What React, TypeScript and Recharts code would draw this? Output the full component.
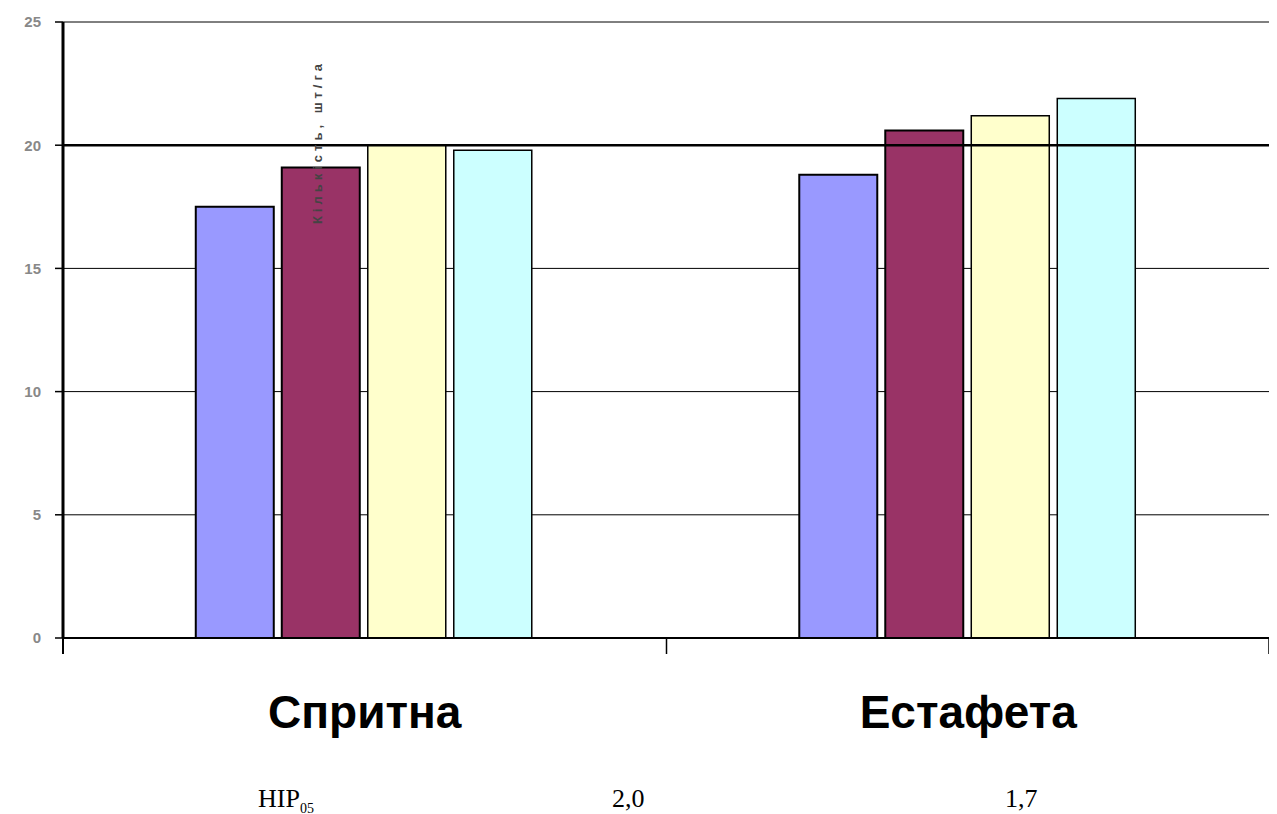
import React from "react";
import { BarChart, Bar, XAxis, YAxis, CartesianGrid, ReferenceLine } from "recharts";

const categories = ["Спритна", "Естафета"];
const series1 = [17.5, 18.8];
const series2 = [19.1, 20.6];
const series3 = [20.0, 21.2];
const series4 = [19.8, 21.9];
const yTicks = [0, 5, 10, 15, 20, 25];
const hirLabel = "НІР";
const hirSub = "05";
const hirValues = ["2,0", "1,7"];
const rotatedLabel = "Кількість, шт/га";

const colors = ["#9999FF", "#993366", "#FFFFCC", "#CCFFFF"];

const data = categories.map((c, i) => ({
  name: c,
  s1: series1[i],
  s2: series2[i],
  s3: series3[i],
  s4: series4[i],
}));

const CatTick = (props: any) => {
  const { x, y, payload } = props;
  const idx = typeof props.index === "number" ? props.index : payload.index;
  const half = payload && typeof payload.offset === "number" && payload.offset > 0 ? payload.offset : 301.75;
  const last = idx === categories.length - 1;
  const rx = x + half - (last ? 1 : 0);
  return (
    <g>
      <line x1={rx} x2={rx} y1={y - 9} y2={y + 8} stroke="#000" strokeWidth={1.5} />
      {idx === 0 ? (
        <line x1={x - half} x2={x - half} y1={y - 9} y2={y + 8} stroke="#000" strokeWidth={2} />
      ) : null}
      <text
        x={x}
        y={y + 82}
        textAnchor="middle"
        fontFamily="Liberation Sans, Arial, sans-serif"
        fontWeight="bold"
        fontSize={46}
        fill="#000"
      >
        {payload.value}
      </text>
    </g>
  );
};

export default function App() {
  return (
    <div style={{ position: "relative", width: 1269, height: 806, fontFamily: "Liberation Serif, serif" }}>
      <BarChart
        width={1269}
        height={806}
        data={data}
        margin={{ top: 14, right: 7, left: 15, bottom: 0 }}
        barCategoryGap="22%"
        barGap={8}
      >
        <CartesianGrid vertical={false} stroke="#000" strokeWidth={1} />
        <XAxis
          dataKey="name"
          tick={<CatTick />}
          tickLine={false}
          interval={0}
          axisLine={{ stroke: "#000", strokeWidth: 2 }}
          height={176}
        />
        <YAxis
          domain={[0, 25]}
          ticks={yTicks}
          width={40}
          tickSize={8}
          tickMargin={14}
          tickLine={{ stroke: "#000", strokeWidth: 1.5 }}
          axisLine={{ stroke: "#000", strokeWidth: 3 }}
          tick={{ fill: "#888", fontSize: 15, fontWeight: "bold", fontFamily: "Liberation Sans, Arial, sans-serif" }}
        />
        <ReferenceLine y={20} stroke="#000" strokeWidth={2.5} />
        <Bar dataKey="s1" fill={colors[0]} stroke="#000" strokeWidth={2} isAnimationActive={false} />
        <Bar dataKey="s2" fill={colors[1]} stroke="#000" strokeWidth={2} isAnimationActive={false} />
        <Bar dataKey="s3" fill={colors[2]} stroke="#000" strokeWidth={1.5} isAnimationActive={false} />
        <Bar dataKey="s4" fill={colors[3]} stroke="#000" strokeWidth={1.5} isAnimationActive={false} />
      </BarChart>
      <div
        style={{
          position: "absolute",
          left: 318 - 8 - 110,
          top: 142 - 8 - 8,
          width: 220,
          height: 16,
          textAlign: "center",
          transform: "rotate(-90deg)",
          fontFamily: "Liberation Sans, Arial, sans-serif",
          fontSize: 13,
          fontWeight: "bold",
          color: "#444",
          letterSpacing: 4,
          lineHeight: "16px",
        }}
      >
        {rotatedLabel}
      </div>
      <div style={{ position: "absolute", left: 250, top: 776, fontSize: 26, color: "#000" }}>
        {hirLabel}
        <sub style={{ fontSize: 14 }}>{hirSub}</sub>
      </div>
      <div style={{ position: "absolute", left: 604, top: 776, fontSize: 26, color: "#000" }}>{hirValues[0]}</div>
      <div style={{ position: "absolute", left: 997, top: 776, fontSize: 26, color: "#000" }}>{hirValues[1]}</div>
    </div>
  );
}
